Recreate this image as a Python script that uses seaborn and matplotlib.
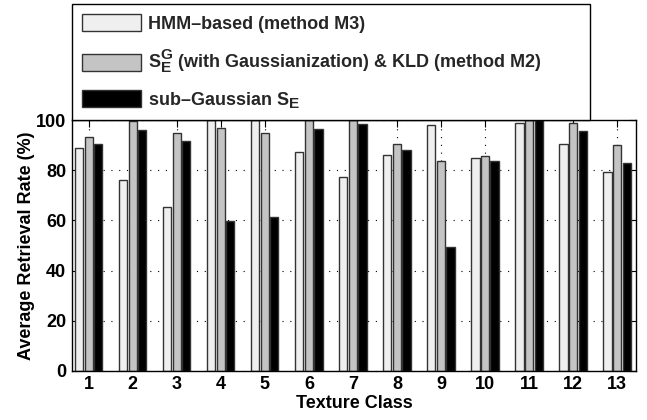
import matplotlib
matplotlib.use("Agg")
import matplotlib.pyplot as plt
import seaborn as sns
import pandas as pd

try:
    import matplotlib._mathtext as _mt
    _mt.SHRINK_FACTOR = 0.85
except Exception:
    pass

classes = ["1", "2", "3", "4", "5", "6", "7", "8", "9", "10", "11", "12", "13"]
hmm = [88.9, 76.0, 65.2, 100, 100, 87.2, 77.3, 86.0, 98.1, 84.9, 99.0, 90.5, 79.5]
m2 = [93.2, 99.6, 94.7, 96.8, 94.7, 100, 100, 90.5, 83.5, 85.6, 100, 98.9, 89.9]
subg = [90.5, 96.0, 91.6, 59.7, 61.3, 96.5, 98.4, 88.1, 49.5, 83.6, 100, 95.6, 82.9]
labels = ["HMM\u2013based (method M3)",
          r"$\mathbf{S}_{\mathbf{E}}^{\mathbf{G}}$ (with Gaussianization) & KLD (method M2)",
          "sub\u2013Gaussian " + r"$\mathbf{S}_{\mathbf{E}}$"]
colors = ["#efefef", "#c4c4c4", "#000000"]

rows = []
for series, lab in zip([hmm, m2, subg], labels):
    for c, v in zip(classes, series):
        rows.append({"cls": c, "val": v, "method": lab})
df = pd.DataFrame(rows)

sns.set_theme(style="white")
plt.rcParams["font.family"] = ["Liberation Sans", "DejaVu Sans"]
plt.rcParams["font.weight"] = "bold"
plt.rcParams["mathtext.fontset"] = "custom"
plt.rcParams["mathtext.rm"] = "Liberation Sans:bold"
plt.rcParams["mathtext.bf"] = "Liberation Sans:bold"

FS = 13

fig = plt.figure(figsize=(6.47, 4.2), dpi=100)
ax = fig.add_axes([0.111, 0.117, 0.872, 0.597])

sns.barplot(data=df, x="cls", y="val", hue="method", order=classes,
            hue_order=labels, palette=colors, width=0.65, gap=0.15,
            edgecolor="#333333", linewidth=1.0, ax=ax, legend=True)

ax.set_xlim(-0.386, 12.43)
ax.set_ylim(0, 100)
ax.set_yticks([0, 20, 40, 60, 80, 100])
ax.set_axisbelow(True)
ax.grid(True, linestyle=(0, (1, 6)), color="black", linewidth=0.8)
for s in ax.spines.values():
    s.set_visible(True)
    s.set_color("black")
    s.set_linewidth(1.0)
ax.tick_params(direction="in", length=5, width=0.8, top=True, right=True,
               bottom=True, left=True, labelsize=FS, colors="black", pad=4)
for t in ax.get_xticklabels() + ax.get_yticklabels():
    t.set_fontweight("bold")
ax.set_xlabel("Texture Class", fontsize=FS, fontweight="bold", labelpad=1, color="black")
ax.set_ylabel("Average Retrieval Rate (%)", fontsize=FS, fontweight="bold", labelpad=1, color="black")

handles, labs = ax.get_legend_handles_labels()
ax.get_legend().remove()
leg = fig.legend(handles, labs, loc="upper left",
                 bbox_to_anchor=(0.111, 0.731, 0.801, 0.259), mode="expand",
                 fancybox=False, shadow=False, frameon=True, framealpha=1,
                 edgecolor="black", fontsize=FS, handlelength=3.3,
                 handleheight=1.05, handletextpad=0.35, labelspacing=0.8,
                 borderpad=0.55, borderaxespad=0)
leg.get_frame().set_linewidth(1.0)
for t in leg.get_texts():
    t.set_fontweight("bold")

fig.savefig("out.png", dpi=100)
